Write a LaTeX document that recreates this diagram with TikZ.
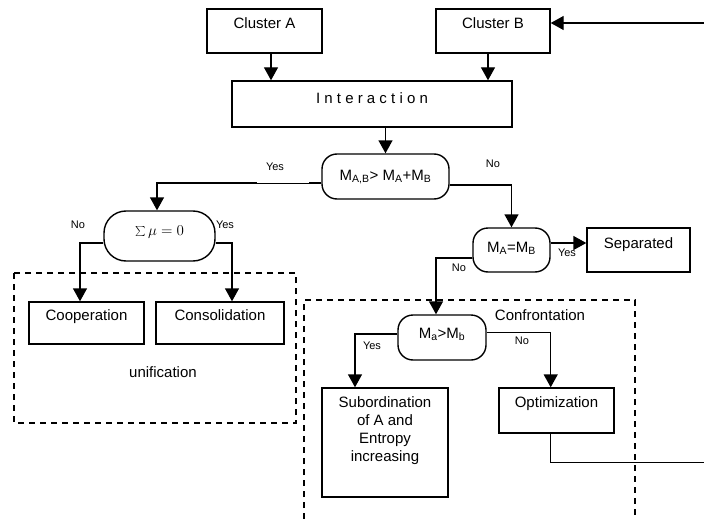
\RequirePackage{fix-cm}
\documentclass[tikz,border=0pt]{standalone}
\usepackage{fontspec}
\setmainfont{Liberation Sans}
\usetikzlibrary{arrows.meta}

\begin{document}
\begin{tikzpicture}[x=1pt, y=-1pt,
  every node/.style={font=\fontsize{15}{18}\selectfont},
  box/.style={draw=black, line width=1.4pt, inner xsep=2pt, inner ysep=0pt},
  decision/.style={box, rounded corners=15pt},
  flow/.style={line width=1.4pt, -{Triangle[length=13pt,width=14pt]}},
  link/.style={line width=1.4pt},
  fine/.style={line width=0.6pt},
  answer/.style={font=\fontsize{11}{13}\selectfont, inner sep=1pt},
  group/.style={draw=black, line width=1.4pt, dash pattern=on 6pt off 5pt}]
  \useasboundingbox (0,0) rectangle (704,519);

  % clusters and interaction
  \node[box, minimum width=115pt, text height=20pt, text depth=24pt] (clA) at (264.5,31) {Cluster A};
  \node[box, minimum width=114pt, text height=20pt, text depth=24pt] (clB) at (493,31) {Cluster B};
  \node[box, minimum width=280pt, text height=22pt, text depth=24pt] (inter) at (372,104) {I n t e r a c t i o n};

  % decisions
  \node[decision, minimum width=127pt, text height=26pt, text depth=19pt] (mab) at (385.5,176.5) {M\textsubscript{A,B}> M\textsubscript{A}+M\textsubscript{B}};
  \node[decision, rounded corners=22pt, minimum width=111pt, text height=24pt, text depth=26pt] (sum) at (159.5,236) {$\sum\mu=0$};
  \node[decision, minimum width=77pt, text height=24pt, text depth=20pt] (meq) at (511.5,250) {M\textsubscript{A}=M\textsubscript{B}};
  \node[decision, minimum width=88pt, text height=23.5pt, text depth=21.5pt] (mgt) at (442,337.5) {M\textsubscript{a}>M\textsubscript{b}};

  % outcomes
  \node[box, minimum width=103pt, text height=20pt, text depth=24pt] (sep) at (638.5,250) {Separated};
  \node[box, minimum width=115pt, text height=18.5pt, text depth=23.5pt] (coop) at (86.5,323) {Cooperation};
  \node[box, minimum width=128pt, text height=18.5pt, text depth=23.5pt] (cons) at (220,323) {Consolidation};
  \node[box, minimum width=115pt, text height=19.5pt, text depth=25.5pt] (opt) at (556.5,410.5) {Optimization};
  \node[box, minimum width=126pt, align=center, text depth=36pt] (sub) at (385,442.5) {\rule{0pt}{19pt}Subordination\\of A and\\Entropy\\increasing};

  % groups
  \draw[group] (14,273) rectangle (296,423);
  \node (unif) at (163,372) {unification};
  \draw[group] (304,519) -- (304,300) -- (635,300) -- (635,519);
  \node (confr) at (540,315) {Confrontation};

  % connectors
  \coordinate (fbin) at (704,23);
  \coordinate (fbout) at (704,462);
  \draw[flow] (fbin) -- (clB.east |- fbin);
  \draw[flow] ([xshift=6.5pt]clA.south) -- ([xshift=6.5pt]clA.south |- inter.north);
  \draw[flow] ([xshift=-5pt]clB.south) -- ([xshift=-5pt]clB.south |- inter.north);
  \draw[flow] (mab.north |- inter.south) -- (mab.north);
  \draw[link] ([yshift=-6.5pt]mab.west) -- ++(-12,0) coordinate (yesA);
  \draw[fine] (yesA) -- ++(-52,0) coordinate (yesB);
  \draw[flow] (yesB) -| ([xshift=-2.5pt]sum.north);
  \draw[flow] ([yshift=-8.5pt]mab.east) -| (meq.north);
  \draw[flow] ([yshift=-7pt]sum.west) -| ([xshift=-6.5pt]coop.north);
  \draw[flow] ([yshift=-7pt]sum.east) -| ([xshift=12pt]cons.north);
  \draw[flow] ([yshift=7pt]meq.east) -- ([yshift=7pt]sep.west);
  \draw[flow] ([yshift=-8pt]meq.west) -| ([xshift=-6pt]mgt.north);
  \draw[flow] ([yshift=3.5pt]mgt.west) -| ([xshift=-30pt]sub.north);
  \draw[fine] ([yshift=5.5pt]mgt.east) -- ++(64,0) coordinate (noC);
  \draw[flow] (noC) -- (noC |- opt.north);
  \draw[fine] ([xshift=-6.5pt]opt.south) |- (fbout);

  % answers
  \node[answer] (y1) at (275,167) {Yes};
  \node[answer] (n1) at (493,164) {No};
  \node[answer] (n2) at (78,225) {No};
  \node[answer] (y2) at (225,225) {Yes};
  \node[answer] (y3) at (567,253) {Yes};
  \node[answer] (n3) at (459,268) {No};
  \node[answer] (y4) at (372,346) {Yes};
  \node[answer] (n4) at (522,341) {No};
\end{tikzpicture}
\end{document}
